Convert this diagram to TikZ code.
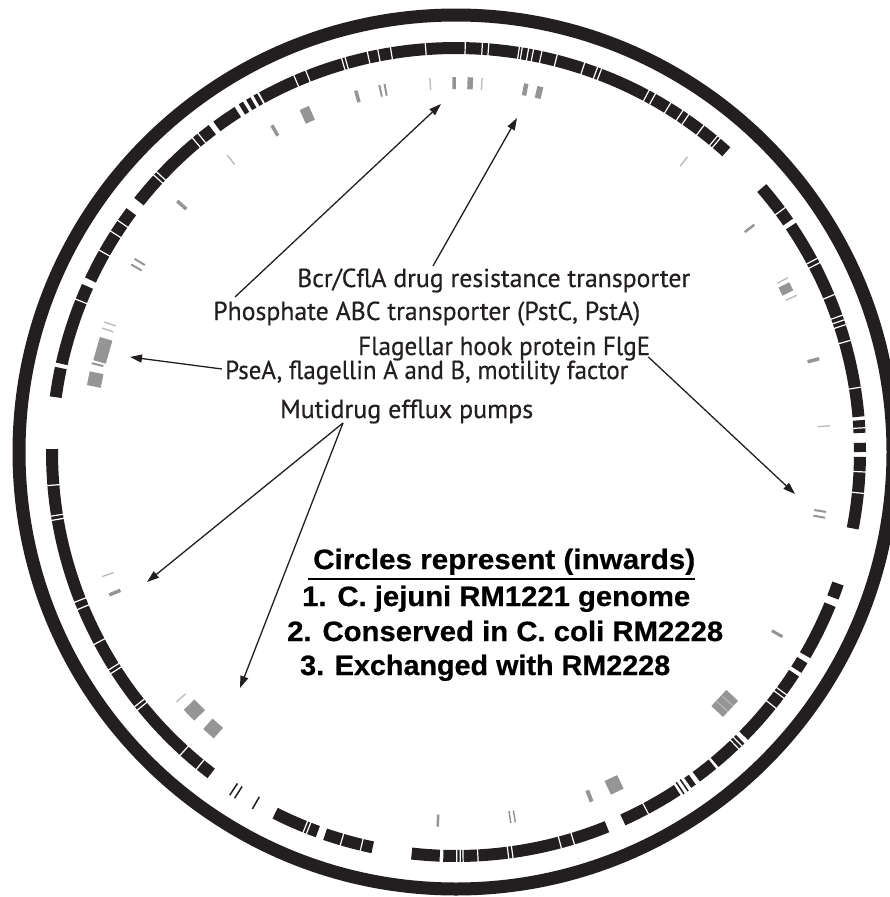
\documentclass[tikz,border=0pt]{standalone}
\usepackage{fontspec}
\usepackage{graphicx}
\setmainfont{Liberation Sans}
\newfontfamily\annotfont[FakeBold=0.5]{PT Sans}
\newfontfamily\legendfont[BoldFeatures={FakeBold=0.6}]{Liberation Sans}
\usetikzlibrary{arrows.meta,calc}
\definecolor{ink}{HTML}{231F20}
\definecolor{gmark}{HTML}{959595}
\definecolor{glight}{HTML}{B8B8B8}
\tikzset{
  annot/.style={anchor=base west, inner sep=0pt, text=ink, font=\annotfont\fontsize{26}{30}\selectfont},
  legend/.style={anchor=base west, inner sep=0pt, text=black, font=\legendfont\bfseries\fontsize{28}{32}\selectfont},
  ptr/.style={draw=ink, line width=1.3pt, -{Triangle[length=12pt,width=8pt]}},
  ringtwo/.style={draw=ink, line width=12pt, line cap=butt},
  sepw/.style={draw=white, line width=1.2pt},
  thinblk/.style={draw=ink, line width=1.5pt},
}
\begin{document}
\begin{tikzpicture}[x=1pt,y=1pt]
\path[use as bounding box] (0,0) rectangle (890,-897);
\fill[white] (0,0) rectangle (890,-897);
\clip (0,0) rectangle (890,-897);
\begin{scope}[shift={(456,-452)}]
  % outer ring: genome
  \draw[ink, line width=13pt] (0,0) circle[radius=437];
  % second ring: conserved blocks (image angles, clockwise from east)
  \foreach \a/\b in {355.5/357.3, 358.7/360.0, 0.7/10.9, 19.0/21.1, 22.2/30.2,
      31.0/32.6, 33.2/44.6, 45.3/50.2, 50.6/53.5, 54.2/55.0, 56.8/65.6,
      68.05/91.8, 92.3/96.3, 101.9/108.9, 110.0/116.6, 127.3/180.4,
      187.8/192.0, 192.6/204.2, 205.2/216.5, 218.3/232.9, 233.7/237.3,
      238.0/238.7, 239.2/239.9, 240.4/241.0, 241.3/312.0, 319.2/325.3, 326.0/355.0}
    \draw[ringtwo] (-\a:404) arc[start angle=-\a, end angle=-\b, radius=404];
  \foreach \a in {55.6, 56.3, 119.7, 122.6, 123.4}
    \draw[thinblk] (-\a:397) -- (-\a:411);
  \foreach \a in {356.6, 2.8, 5.8, 36.3, 36.9, 38.7, 45.8, 46.4, 62.0, 73.2, 75.1,
      82.0, 82.6, 86.9, 89.0, 89.4, 89.9, 103.5, 106.4, 111.4, 111.9, 129.3, 132.3,
      141.0, 141.6, 147.3, 147.9, 152.0, 157.4, 158.5, 170.4, 171.0, 175.3, 201.9,
      209.5, 212.6, 214.4, 222.5, 223.1, 230.0, 231.0, 246.7, 248.5, 253.8, 254.3,
      257.5, 259.0, 260.8, 265.7, 271.3, 273.7, 274.6, 278.9, 279.3, 280.2, 280.9,
      282.1, 284.3, 288.3, 290.2, 290.8, 298.1, 299.1, 301.6, 303.6, 304.6, 307.2,
      309.6, 310.1, 323.4, 331.8, 332.5, 337.4, 340.5, 341.2, 341.9, 344.2, 350.9}
    \draw[sepw] (-\a:396) -- (-\a:412);
  % third ring: exchanged regions (grey)
  \foreach \a in {266.0, 232.4, 199.3, 200.3, 160.6, 138.2, 274.0, 308.1, 332.3, 335.3, 356.0}
    \draw[glight, line width=1.3pt] (-\a:363) -- (-\a:375);
  \foreach \a/\w in {258.2/2, 259.0/2, 254.5/3.5, 240.6/3.5, 222.0/3.5, 210.0/2,
      211.0/2, 157.6/3.5, 269.7/3.5, 272.2/5.5, 280.8/4.5, 283.0/6, 322.7/2.5,
      345.6/3.5, 9.2/2, 10.1/2, 29.5/3, 68.8/4, 92.8/2.5, 80.9/1.5, 81.6/1.5, 193.7/2}
    \draw[gmark, line width=\w pt] (-\a:363) -- (-\a:375);
  \foreach \a/\w/\p/\q in {246.2/10/361/376, 196.05/24/361/374, 191.35/14/361/375,
      135.4/15/360/375, 131.3/14/361/375, 64.6/14/361/376, 43.1/22/360/376, 333.7/9/362/374}
    \draw[gmark, line width=\w pt] (-\a:\p) -- (-\a:\q);
  \foreach \a in {42.5, 43.7}
    \draw[glight, line width=1pt] (-\a:360) -- (-\a:376);
\end{scope}
% annotations
\node[annot] (bcr) at (297,-287) {\resizebox{393pt}{\height}{Bcr/CflA drug resistance transporter}};
\node[annot] (phos) at (213,-320) {\resizebox{427pt}{\height}{Phosphate ABC transporter (PstC, PstA)}};
\node[annot] (flag) at (358,-355) {\resizebox{292pt}{\height}{Flagellar hook protein FlgE}};
\node[annot] (psea) at (225,-379) {\resizebox{403pt}{\height}{PseA, flagellin A and B, motility factor}};
\node[annot] (muti) at (280,-418) {\resizebox{253pt}{\height}{Mutidrug efflux pumps}};
% legend
\node[legend] (circ) at (313,-569) {\resizebox{382pt}{\height}{Circles represent (inwards)}};
\node[legend] (l1) at (302,-606) {\resizebox{388pt}{\height}{1. C. jejuni RM1221 genome}};
\node[legend] (l2) at (287,-641) {\resizebox{436pt}{\height}{2. Conserved in C. coli RM2228}};
\node[legend] (l3) at (300,-675) {\resizebox{370pt}{\height}{3. Exchanged with RM2228}};
\draw[black, line width=2pt] ($(circ.base west)+(-5,-10)$) -- ($(circ.base east)+(0,-10)$);
% arrows
\coordinate (s-bcr) at ($(bcr.base west)+(136,21)$);
\coordinate (t-bcr) at (517,-118);
\coordinate (s-phos) at ($(phos.base west)+(22,23)$);
\coordinate (t-phos) at (441,-104);
\coordinate (s-psea) at ($(psea.base west)+(-3,10)$);
\coordinate (t-psea) at (130,-357);
\coordinate (s-flag) at ($(flag.base east)+(-2,-2)$);
\coordinate (t-flag) at (795,-494);
\coordinate (s-muti) at ($(muti.base west)+(63,-5)$);
\coordinate (t-muti1) at (147,-582);
\coordinate (t-muti2) at (240,-688);
\draw[ptr] (s-bcr) -- (t-bcr);
\draw[ptr] (s-phos) -- (t-phos);
\draw[ptr] (s-psea) -- (t-psea);
\draw[ptr] (s-flag) -- (t-flag);
\draw[ptr] (s-muti) -- (t-muti1);
\draw[ptr] (s-muti) -- (t-muti2);
\end{tikzpicture}
\end{document}
